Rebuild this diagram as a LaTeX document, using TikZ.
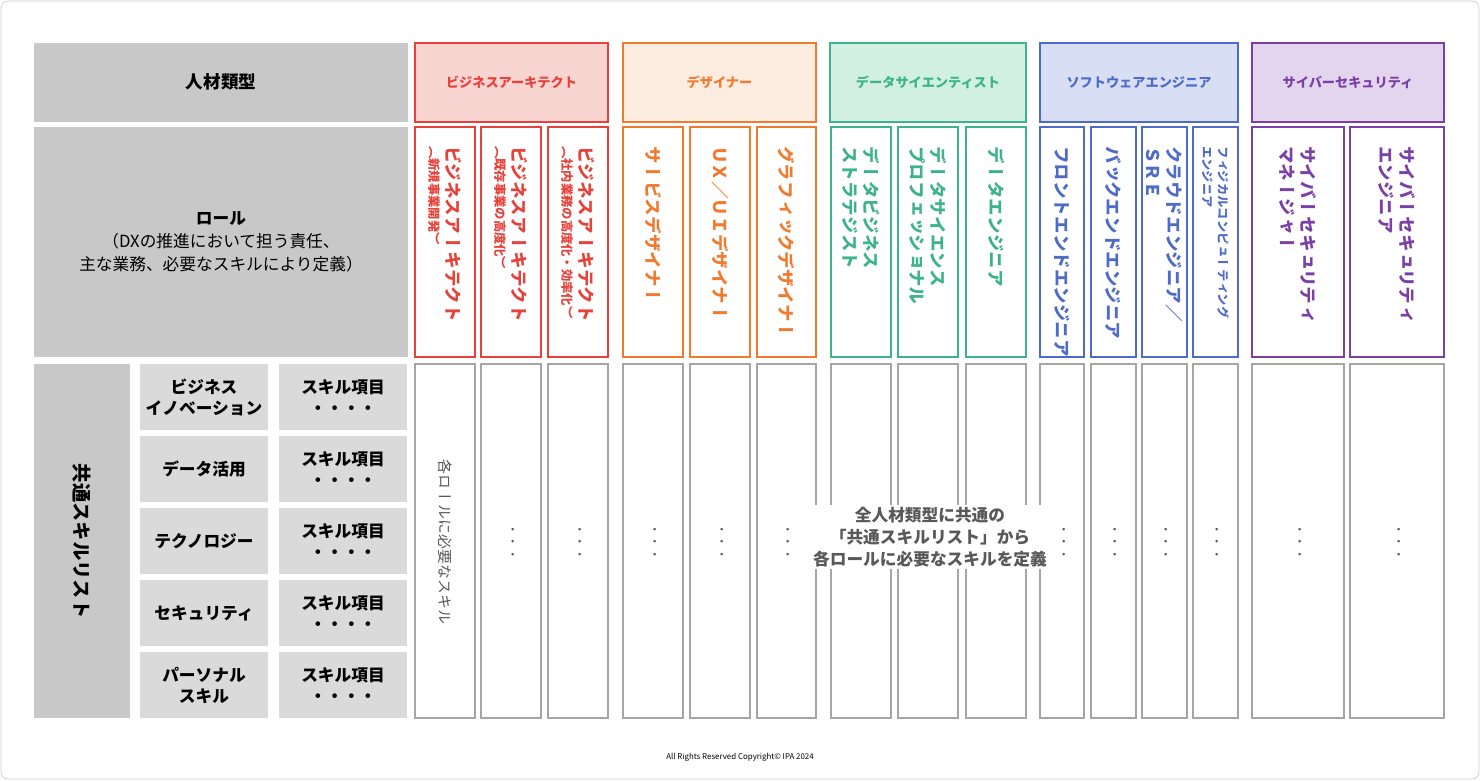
\documentclass[tikz,border=0pt]{standalone}
\usepackage{fontspec}
\setmainfont{Noto Sans CJK JP}
\newfontfamily\vjp[RawFeature={+vert}]{Noto Sans CJK JP}
\usetikzlibrary{positioning}

\definecolor{baR}{HTML}{E8413A}  \definecolor{baF}{HTML}{F9D5D2}
\definecolor{dsO}{HTML}{F07A2E}  \definecolor{dsF}{HTML}{FDECE0}
\definecolor{sciG}{HTML}{3DB389} \definecolor{sciF}{HTML}{D2EFE4}
\definecolor{swB}{HTML}{4F6BC9}  \definecolor{swF}{HTML}{D8DEF3}
\definecolor{cyP}{HTML}{7B3FA8}  \definecolor{cyF}{HTML}{E4D5EF}
\definecolor{grayA}{HTML}{C8C8C8}
\definecolor{grayB}{HTML}{DADADA}
\definecolor{txtG}{HTML}{595959}

\tikzset{
  graycell/.style={fill=grayA, draw=none},
  subcell/.style={fill=grayB, draw=none},
  headbox/.style={draw=#1, line width=1.4pt},
  rolebox/.style={draw=#1, line width=0.9pt, fill=white},
  skillbox/.style={draw=gray!70, line width=0.9pt, fill=white},
  vtext/.style={rotate=-90, anchor=west, align=left, font=\vjp\bfseries\fontsize{10}{12}\selectfont, text=#1},
}

% column: x1, x2, colour, text
\newcommand{\rolecol}[4]{%
  \draw[rolebox=#3] (#1,127) rectangle (#2,357);
  \draw[skillbox] (#1,364) rectangle (#2,718);
  \node[vtext=#3] at ({(#1+#2)/2},140) {#4};
}
\newcommand{\skilldots}[1]{%
  \node[rotate=-90, text=txtG, font=\vjp\fontsize{7}{7}\selectfont] at (#1,542) {・・・};
}

\begin{document}
\begin{tikzpicture}[x=0.2mm,y=-0.2mm]
    \useasboundingbox (0,0) rectangle (1480,780);
    \draw[gray!40, rounded corners=4pt] (1,1) rectangle (1479,779);
    % Left header cells
    \fill[graycell] (34,43) rectangle (408,122);
    \node[font=\bfseries\fontsize{10}{12}\selectfont] (type) at (221,82) {人材類型};
    \fill[graycell] (34,127) rectangle (408,357);
    \node[align=center, font=\fontsize{9.5}{13}\selectfont] (role) at (221,242)
      {\textbf{ロール}\\（DXの推進において担う責任、\\主な業務、必要なスキルにより定義）};
    \fill[graycell] (34,364) rectangle (130,718);
    \node[rotate=-90, font=\vjp\bfseries\fontsize{11}{12}\selectfont] (common) at (82,541) {共通スキルリスト};
    % Skill categories
    \foreach \y/\lbl [count=\i] in {364/{ビジネス\\イノベーション}, 436/データ活用, 508/テクノロジー, 580/セキュリティ, 652/{パーソナル\\スキル}} {
      \fill[subcell] (140,\y) rectangle (268,\y+66);
      \node[align=center, font=\bfseries\fontsize{9.5}{12}\selectfont] (cat\i) at (204,\y+33) {\lbl};
      \fill[subcell] (279,\y) rectangle (407,\y+66);
      \node[align=center, font=\bfseries\fontsize{9.5}{12}\selectfont] (item\i) at (343,\y+33) {スキル項目\\・・・・};
    }
    % Category headers
    \foreach \xa/\xb/\c/\f/\lbl in {415/608/baR/baF/ビジネスアーキテクト, 623/816/dsO/dsF/デザイナー,
        830/1026/sciG/sciF/データサイエンティスト, 1040/1238/swB/swF/ソフトウェアエンジニア,
        1252/1444/cyP/cyF/サイバーセキュリティ} {
      \draw[headbox=\c, fill=\f] (\xa,43) rectangle (\xb,122);
      \node[text=\c, font=\bfseries\fontsize{7.5}{9}\selectfont] at ({(\xa+\xb)/2},82) {\lbl};
    }
    % Roles
    \rolecol{415}{475}{baR}{ビジネスアーキテクト\\[-2pt]{\fontsize{7}{8}\selectfont （新規事業開発）}}
    \rolecol{481}{541}{baR}{ビジネスアーキテクト\\[-2pt]{\fontsize{7}{8}\selectfont （既存事業の高度化）}}
    \rolecol{548}{608}{baR}{ビジネスアーキテクト\\[-2pt]{\fontsize{7}{8}\selectfont （社内業務の高度化・効率化）}}
    \rolecol{623}{683}{dsO}{サービスデザイナー}
    \rolecol{690}{750}{dsO}{ＵＸ／ＵＩデザイナー}
    \rolecol{757}{816}{dsO}{グラフィックデザイナー}
    \rolecol{831}{891}{sciG}{データビジネス\\ストラテジスト}
    \rolecol{898}{958}{sciG}{データサイエンス\\プロフェッショナル}
    \rolecol{966}{1026}{sciG}{データエンジニア}
    \rolecol{1040}{1084}{swB}{フロントエンドエンジニア}
    \rolecol{1091}{1136}{swB}{バックエンドエンジニア}
    \rolecol{1142}{1187}{swB}{クラウドエンジニア／\\ＳＲＥ}
    \rolecol{1193}{1238}{swB}{{\fontsize{7}{8}\selectfont フィジカルコンピューティング}\\[-3pt]{\fontsize{7}{8}\selectfont エンジニア}}
    \rolecol{1252}{1344}{cyP}{サイバーセキュリティ\\マネージャー}
    \rolecol{1350}{1444}{cyP}{サイバーセキュリティ\\エンジニア}
    % Skills in columns
    \node[rotate=-90, text=txtG, font=\vjp\fontsize{8.5}{10}\selectfont] (need) at (445,542) {各ロールに必要なスキル};
    \foreach \x in {511,578,653,720,786,1062,1113,1164,1215,1298,1397} {\skilldots{\x}}
    \node[fill=white, inner sep=1pt, align=center, text=txtG, font=\bfseries\fontsize{9.5}{12.5}\selectfont] (note) at (930,537)
      {全人材類型に共通の\\「共通スキルリスト」から\\各ロールに必要なスキルを定義};
    % Footer
    \node[font=\fontsize{4.5}{5}\selectfont] (copy) at (740,757) {All Rights Reserved Copyright© IPA 2024};
\end{tikzpicture}
\end{document}
